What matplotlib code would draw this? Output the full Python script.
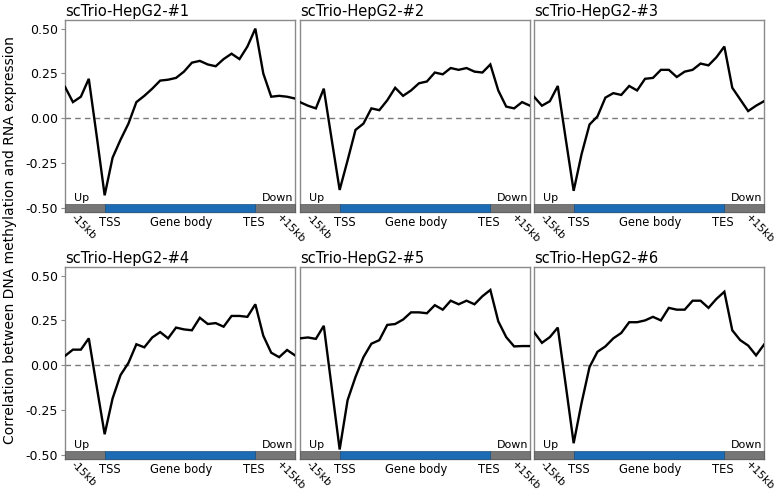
import matplotlib
matplotlib.use('Agg')
import numpy as np
import matplotlib.pyplot as plt

# bins: 5 upstream, 19 in gene body, 5 downstream -> 30 points
bins = np.arange(30)
tss, tes = 5, 24

hep1 = [0.175, 0.09, 0.12, 0.22, -0.10, -0.43, -0.22, -0.12, -0.03, 0.09, 0.125, 0.165, 0.21, 0.215, 0.225,
        0.26, 0.31, 0.32, 0.30, 0.29, 0.33, 0.36, 0.33, 0.40, 0.50, 0.25, 0.12, 0.125, 0.12, 0.11]
hep2 = [0.09, 0.07, 0.055, 0.165, -0.12, -0.40, -0.235, -0.065, -0.03, 0.055, 0.045, 0.10, 0.17, 0.125, 0.155,
        0.195, 0.205, 0.255, 0.245, 0.28, 0.27, 0.28, 0.26, 0.255, 0.30, 0.155, 0.065, 0.055, 0.09, 0.07]
hep3 = [0.12, 0.07, 0.095, 0.18, -0.115, -0.405, -0.20, -0.035, 0.01, 0.115, 0.14, 0.13, 0.18, 0.155, 0.22,
        0.225, 0.27, 0.27, 0.23, 0.26, 0.27, 0.305, 0.295, 0.34, 0.40, 0.17, 0.105, 0.04, 0.07, 0.095]
hep4 = [0.052, 0.087, 0.087, 0.15, -0.12, -0.385, -0.185, -0.055, 0.013, 0.117, 0.10, 0.155, 0.185, 0.15, 0.21,
        0.20, 0.195, 0.265, 0.23, 0.235, 0.215, 0.275, 0.275, 0.27, 0.34, 0.165, 0.07, 0.045, 0.085, 0.055]
hep5 = [0.15, 0.155, 0.147, 0.22, -0.125, -0.47, -0.195, -0.065, 0.045, 0.12, 0.14, 0.225, 0.23, 0.255, 0.295,
        0.295, 0.29, 0.335, 0.31, 0.36, 0.34, 0.36, 0.34, 0.385, 0.42, 0.245, 0.157, 0.105, 0.107, 0.107]
hep6 = [0.185, 0.125, 0.157, 0.21, -0.11, -0.435, -0.21, -0.01, 0.075, 0.105, 0.15, 0.18, 0.24, 0.24, 0.25,
        0.27, 0.25, 0.32, 0.31, 0.31, 0.36, 0.36, 0.32, 0.37, 0.41, 0.195, 0.14, 0.11, 0.055, 0.115]

series = [hep1, hep2, hep3, hep4, hep5, hep6]
titles = ['scTrio-HepG2-#%d' % (i + 1) for i in range(6)]
yticks = [-0.50, -0.25, 0.00, 0.25, 0.50]
xlabel_pos = [0.9, 5.6, 14.6, 23.8, 26.9]
xlabel_txt = ['-15kb', 'TSS', 'Gene body', 'TES', '+15kb']

GRAY_BAR = '#767676'
BLUE_BAR = '#1c6cb5'
FRAME = '#8a8a8a'

fig = plt.figure(figsize=(7.77, 4.95), dpi=100)
W, H = 777, 495
lefts = [65, 300, 534]
tops = [20, 267]
aw, ah = 230, 192

ylo, yhi = -0.523, 0.548
bar_h = 0.045

for k, vals in enumerate(series):
    r, c = divmod(k, 3)
    ax = fig.add_axes([lefts[c] / W, 1 - (tops[r] + ah) / H, aw / W, ah / H])
    ax.plot(bins, vals, color='black', lw=1.7, solid_joinstyle='miter', zorder=4)
    ax.axhline(0, color='#7a7a7a', lw=1.0, ls=(0, (4, 3)), zorder=2)

    # region bar along the bottom
    ax.broken_barh([(0, tss), (tes, bins[-1] - tes)], (ylo, bar_h),
                   facecolors=GRAY_BAR, edgecolor='#555555', lw=0.5, zorder=5, clip_on=False)
    ax.broken_barh([(tss, tes - tss)], (ylo, bar_h),
                   facecolors=BLUE_BAR, edgecolor='#1a4f80', lw=0.5, zorder=6, clip_on=False)
    ax.text(1.1, ylo + bar_h + 0.005, 'Up', fontsize=8, ha='left', va='bottom')
    ax.text(28.8, ylo + bar_h + 0.005, 'Down', fontsize=8, ha='right', va='bottom')

    ax.set_xlim(bins[0], bins[-1])
    ax.set_ylim(ylo, yhi)
    for s in ax.spines.values():
        s.set_color(FRAME)
        s.set_linewidth(1.0)

    ax.set_xticks(xlabel_pos)
    ax.set_xticklabels(xlabel_txt, fontsize=8.3)
    ax.tick_params(axis='x', length=0, pad=3)
    tl = ax.get_xticklabels()
    for i in (0, 4):
        tl[i].set_rotation(-45)
        tl[i].set_rotation_mode('anchor')
        tl[i].set_ha('left')
        tl[i].set_va('center')
        tl[i].set_fontsize(7.8)

    ax.set_yticks(yticks)
    if c == 0:
        ax.set_yticklabels(['%.2f' % v for v in yticks], fontsize=9)
        ax.tick_params(axis='y', length=3, color=FRAME, pad=2)
    else:
        ax.tick_params(axis='y', left=False, labelleft=False)

    ax.set_title(titles[k], loc='left', fontsize=10.5, pad=3)

fig.text(0.013, 0.516, 'Correlation between DNA methylation and RNA expression',
         rotation=90, va='center', ha='center', fontsize=10)

plt.savefig('out.png', dpi=100, facecolor='white')
plt.close('all')
